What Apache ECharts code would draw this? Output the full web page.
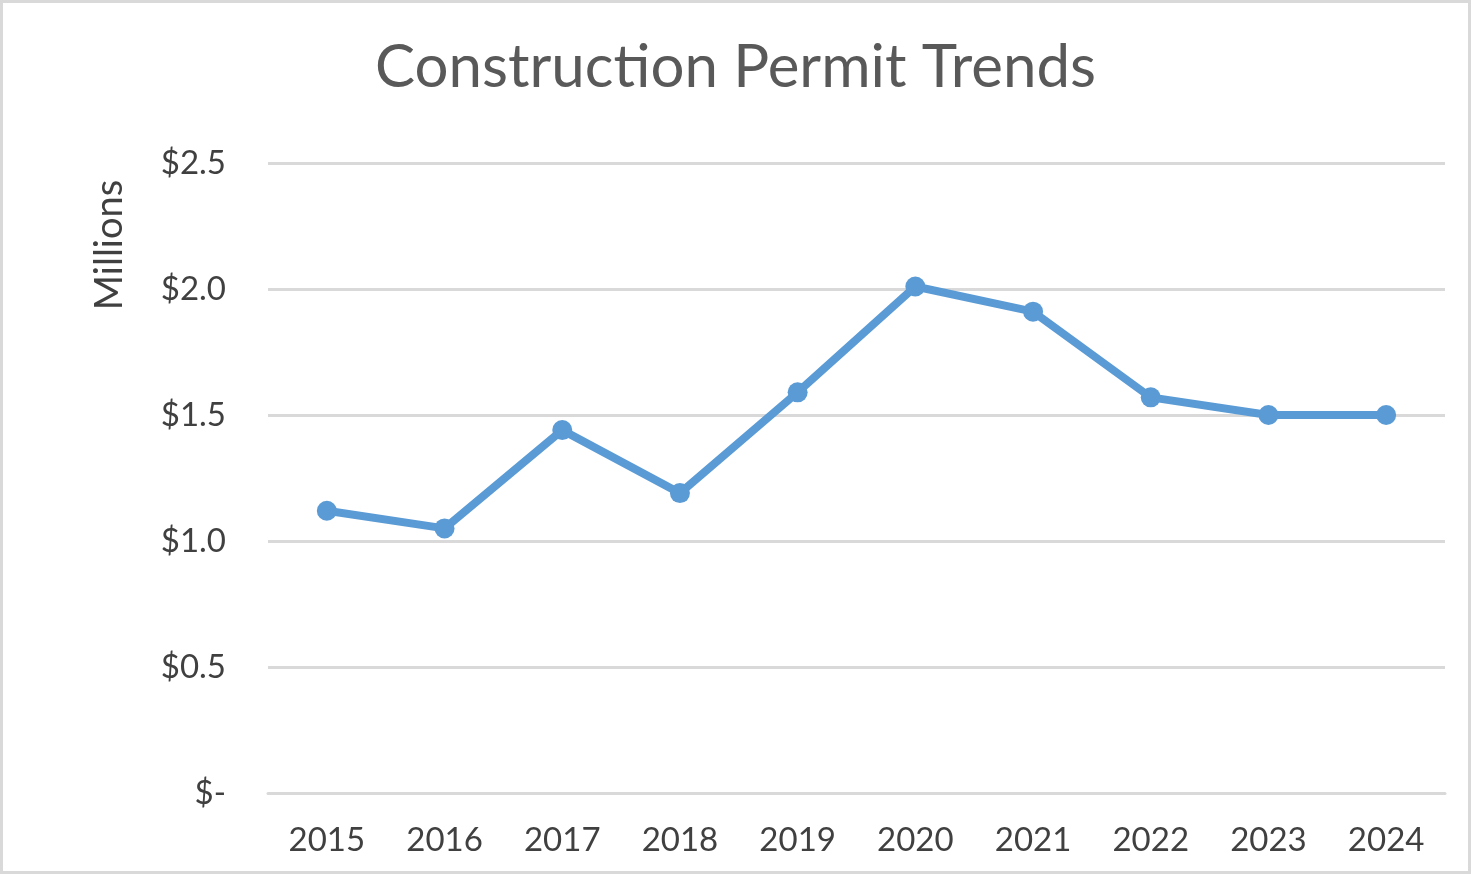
<!DOCTYPE html>
<html>
<head>
<meta charset="utf-8">
<script src="https://cdn.jsdelivr.net/npm/echarts@6/dist/echarts.min.js"></script>
<style>
  html, body { margin: 0; padding: 0; background: #fff; }
  #chart { width: 1471px; height: 874px; box-sizing: border-box; border: 3px solid #d9d9d9; }
</style>
</head>
<body>
<div id="chart"></div>
<script>
const years = ['2015', '2016', '2017', '2018', '2019', '2020', '2021', '2022', '2023', '2024']
const permits = [1.12, 1.05, 1.44, 1.19, 1.59, 2.01, 1.91, 1.57, 1.50, 1.50]

const chart = echarts.init(document.getElementById('chart'))

const fontFamily = 'Lato, "Open Sans", sans-serif'

chart.setOption({
  animation: false,
  title: {
    text: 'Construction Permit Trends',
    left: 'center',
    top: 30,
    textStyle: {
      fontFamily,
      fontSize: 60,
      fontWeight: 'normal',
      color: '#595959'
    }
  },
  graphic: [
    {
      type: 'text',
      x: 107,
      y: 242,
      rotation: Math.PI / 2,
      style: {
        text: 'Millions',
        fontFamily,
        fontSize: 38,
        fill: '#404040',
        align: 'center',
        verticalAlign: 'middle'
      }
    }
  ],
  grid: {
    left: 265,
    right: 23,
    top: 160,
    bottom: 78
  },
  xAxis: {
    type: 'category',
    data: years,
    axisLine: { lineStyle: { color: '#d9d9d9', width: 3 } },
    axisTick: { show: false },
    axisLabel: {
      fontFamily,
      fontSize: 33,
      color: '#404040',
      margin: 31
    }
  },
  yAxis: {
    type: 'value',
    min: 0,
    max: 2.5,
    interval: 0.5,
    axisLine: { show: false },
    axisTick: { show: false },
    splitLine: { lineStyle: { color: '#d9d9d9', width: 3 } },
    axisLabel: {
      fontFamily,
      fontSize: 33,
      color: '#404040',
      margin: 42,
      formatter: (v) => v === 0 ? '$-' : '$' + v.toFixed(1)
    }
  },
  series: [
    {
      type: 'line',
      data: permits,
      symbol: 'circle',
      symbolSize: 20,
      itemStyle: { color: '#5b9bd5' },
      lineStyle: { color: '#5b9bd5', width: 8 }
    }
  ]
})
</script>
</body>
</html>
